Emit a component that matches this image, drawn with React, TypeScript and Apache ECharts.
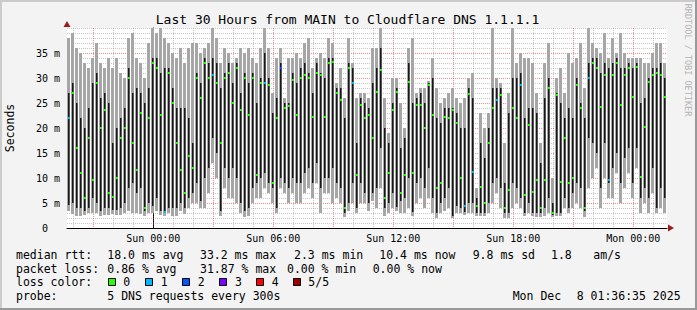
import React, { useEffect, useRef } from 'react';
import * as echarts from 'echarts';

// ---------- data (ms) ----------
// time axis in hours relative to Sun 00:00; one sample every 12 minutes
const START_HOUR = -4.315;
const END_HOUR = 25.685;
const STEP_HOURS = 0.2;

const minRtt = [
  3.5, 2.8, 2.5, 2.5, 2.7, 3, 3, 3, 2.5, 2.7,
  2.6, 2.8, 2.6, 2.7, 3, 3.5, 3, 3, 2.8, 2.5,
  3, 3, 3.5, 2.6, 2.4, 3, 2.5, 2.5, 3.5, 2.8,
  4, 5, 5, 4, 4, 7, 13, 10, 2.5, 8,
  6, 6, 5, 3, 2.2, 2.5, 5, 6, 6, 8,
  7, 5, 3, 8, 7, 5, 7, 5, 5, 7,
  8, 6, 9, 3, 7, 7, 5, 6, 5, 2.3,
  3.5, 5, 3, 5, 5, 3.5, 5.5, 4, 8, 2.5,
  3, 4, 3.5, 3, 3, 4, 2.5, 5, 6, 4,
  6, 3, 2, 3, 3.5, 4, 2, 3, 3, 2.7,
  3, 3, 2.5, 2.5, 2.4, 3, 5, 7, 4, 2,
  2, 4, 5, 4, 2.5, 3, 2.5, 2.3, 2.3, 2.5,
  3, 2.3, 2.5, 2.5, 4, 3, 4, 5, 4, 2.2,
  8, 10, 12, 4, 10, 6, 6, 11, 5, 8,
  11, 6, 12, 3, 5, 3, 7, 3, 4, 3,
];
const lowInnerRtt = [
  4.6, 5, 4, 4, 3.5, 4, 6, 5, 3.5, 4,
  4, 3.6, 3.6, 4, 5, 8, 9, 7, 8, 3.5,
  5, 4.5, 6, 3.5, 3, 4, 4, 4, 5, 4,
  6, 7, 9, 5.5, 10, 12, 18, 15, 3.5, 12,
  10, 12, 10, 5, 3.5, 4, 8, 9, 10, 11,
  9, 8, 4, 10, 9, 8, 10, 9, 9, 11,
  12, 9, 13, 8, 10, 10, 12, 9, 8, 3,
  5, 9, 4, 9, 7, 5, 7, 8, 16, 4,
  5, 7, 4.3, 5.5, 6, 10, 3.3, 9, 10, 8,
  12, 6, 3, 5, 6, 8, 2.4, 4.5, 4, 3.3,
  5, 5, 3, 3, 3, 5, 9, 10, 8, 3,
  3, 9, 8, 6, 3, 5, 3, 3, 3, 4,
  6, 2.7, 3, 3, 6, 4, 7, 9, 8, 3.5,
  18, 17, 15, 8, 17, 9, 12, 15, 9, 14,
  16, 9, 16, 6, 8, 6, 12, 4, 8, 6,
];
const medianRtt = [
  22, 27, 16, 11, 6, 18, 9.7, 29, 20, 23.6,
  7, 6.3, 10, 18, 20, 30, 17, 11.6, 23, 4,
  22, 33, 32, 22.6, 3.2, 31, 25, 17, 11.6, 7,
  14.5, 12, 30, 26, 33, 30, 30.6, 29, 17, 30,
  31, 25, 32, 23.6, 30, 22.6, 30, 10.6, 29, 29,
  28.6, 9, 22, 32, 24, 24.5, 29.6, 22.6, 30, 30.6,
  30, 22.3, 31, 30.6, 22.3, 33, 33.3, 27, 25.6, 4,
  32, 29, 10.6, 24.6, 22, 22.6, 18, 27.3, 31.6, 6,
  11, 23.6, 27.3, 7, 10.6, 29.3, 11, 24.6, 24.6, 20,
  28.6, 22.6, 8, 9, 22.3, 22, 23.6, 21, 10, 4.5,
  26.9, 11.3, 4.5, 8.3, 5, 17, 24, 25.6, 26.6, 4,
  7.6, 24, 22, 28.6, 6.6, 20.6, 7.3, 9.6, 4, 9.6,
  28, 3, 26.6, 9.3, 18, 9, 10, 28.6, 24, 4,
  30, 33, 32, 24.3, 30.6, 9.6, 30.6, 33, 24.6, 30.6,
  32, 26.3, 32.3, 10.3, 20.3, 29.3, 30.6, 31, 30.6, 26.3,
];
const highInnerRtt = [
  27, 29, 25, 22, 20, 24, 29, 31, 26, 27,
  25, 17, 20, 22, 24, 32, 27, 28, 27, 25,
  28, 34, 34, 31, 32, 32, 28, 24, 24, 24,
  22, 17, 31, 29, 34, 33, 34, 33, 28, 31,
  33, 29, 33, 27, 31, 29, 31, 25, 30, 35,
  30, 23, 26, 33, 25, 25, 31, 29, 32, 33,
  31, 27, 33, 31, 30, 34, 34, 28, 28, 22,
  33, 32, 17, 26, 25, 24, 29, 32, 36, 20,
  17, 25, 28, 16, 18, 33, 25, 26, 27, 25,
  29, 30, 22, 21, 24, 24, 24, 23, 20, 20,
  28, 26, 6, 17, 14, 20, 28, 28, 28, 9,
  23, 30, 30, 31, 22, 24, 24, 23, 13, 26,
  30, 5, 27, 25, 22, 24, 22, 30, 25, 22,
  33, 34, 34, 31, 33, 32, 33, 34, 32, 32,
  33, 32, 33, 25, 26, 30, 32, 32, 33, 30,
];
const maxRtt = [
  38, 39, 36, 35, 33, 32, 34, 37, 33, 32,
  34, 32, 34, 31, 30, 38, 39, 34, 33, 30,
  37, 40, 39, 40, 38, 37, 35, 34, 36, 33,
  36, 37, 37, 35, 36, 37, 40, 38, 33, 36,
  35, 33, 34, 36, 35, 36, 34, 33, 36, 40,
  36, 27, 34, 36, 26, 34, 34, 35, 34, 37,
  38, 32, 34, 35, 34, 38, 37, 29, 32, 26,
  38, 33, 26, 27, 27, 26, 36, 36, 40, 26,
  19, 30, 30, 25, 20, 36, 38, 27, 28, 28,
  29.5, 34, 28, 25, 26, 27, 28, 26, 25, 26,
  30, 31, 8, 23, 20, 23, 40, 30, 29, 17,
  27, 40, 33, 35, 34, 34, 33, 27, 17, 33,
  37, 10, 30, 32, 27, 35, 33, 34, 37, 28,
  40, 37, 36, 35, 39, 34, 38, 35, 39, 35,
  34, 34, 34, 34, 33, 33, 35, 37, 37, 33,
];
const lossCount = [
  1, 0, 0, 0, 0, 0, 0, 0, 0, 0,
  0, 0, 0, 0, 0, 0, 0, 0, 0, 0,
  0, 0, 0, 0, 1, 0, 0, 0, 0, 0,
  0, 0, 0, 0, 0, 0, 1, 0, 0, 0,
  0, 0, 0, 0, 0, 0, 0, 0, 0, 1,
  0, 0, 0, 2, 0, 0, 0, 0, 0, 0,
  0, 0, 0, 0, 0, 0, 0, 0, 0, 0,
  0, 1, 0, 0, 0, 0, 0, 0, 0, 0,
  0, 0, 0, 0, 0, 0, 0, 0, 0, 0,
  0, 0, 0, 0, 0, 0, 0, 0, 0, 1,
  0, 1, 0, 0, 0, 0, 0, 1, 0, 0,
  0, 0, 0, 1, 0, 0, 0, 0, 0, 0,
  0, 0, 0, 0, 0, 0, 0, 0, 0, 0,
  1, 0, 0, 0, 0, 1, 0, 0, 0, 0,
  0, 0, 0, 0, 0, 0, 0, 0, 0, 0,
];

const xLabelHours = [0, 6, 12, 18, 24];
const xLabelTexts = ['Sun 00:00', 'Sun 06:00', 'Sun 12:00', 'Sun 18:00', 'Mon 00:00'];
const lossLabels = ['0', '1', '2', '3', '4', '5/5'];
const lossColors = ['#26ff00', '#00b8ff', '#0059ff', '#7e00ff', '#ff0000', '#a00000'];

const titleText = 'Last 30 Hours from MAIN to Cloudflare DNS 1.1.1.1';
const statsRtt = ['median rtt:', '18.0 ms avg', '33.2 ms max', '2.3 ms min', '10.4 ms now', '9.8 ms sd', '1.8', 'am/s'];
const statsLoss = ['packet loss:', '0.86 % avg', '31.87 % max', '0.00 % min', '0.00 % now'];
const probeLine = ['probe:', '5 DNS requests every 300s', 'Mon Dec', '8 01:36:35 2025'];

// ---------- layout ----------
const W = 697;
const H = 310;
const GRID = { left: 67, top: 28, width: 600, height: 200 };
const MONO = '"DejaVu Sans Mono", monospace';
const rttX = [16, 107.3, 200, 294, 379.3, 472.7, 551, 593.3];
const lossX = [16, 107.3, 200, 287, 372.7];
const probeX = [16, 107.3, 512.7, 576.7];
const boxX = [108.5, 145.5, 182.5, 219.5, 256.5, 293.5];
const boxLabelX = [123.3, 160.7, 197.7, 235, 271.7, 308.3];
const LINE_Y = [255, 268.5, 282, 296];
const MINOR_GRID = 'rgba(120,120,120,0.42)';
const MAJOR_GRID = 'rgba(220,30,30,0.5)';

export default function App() {
  const ref = useRef<HTMLDivElement>(null);

  useEffect(() => {
    document.body.style.margin = '0';
    const el = ref.current;
    if (!el) return;
    const chart = echarts.init(el, undefined, { renderer: 'svg', width: W, height: H });

    const data = medianRtt.map((m, i) => [
      START_HOUR + (i + 0.5) * STEP_HOURS,
      minRtt[i],
      lowInnerRtt[i],
      m,
      highInnerRtt[i],
      maxRtt[i],
      lossCount[i],
    ]);

    const hourLines: number[][] = [];
    for (let h = Math.ceil(START_HOUR); h <= Math.floor(END_HOUR); h++) {
      hourLines.push([h, 0, h % 3 === 0 ? 1 : 0]);
    }
    const valueLines: number[][] = [];
    for (let v = 1; v <= 40; v++) {
      valueLines.push([START_HOUR, v, v % 5 === 0 && v < 40 ? 1 : 0]);
    }

    const textEl = (x: number, y: number, text: string, extra: any = {}) => ({
      type: 'text',
      x,
      y,
      z: 50,
      silent: true,
      style: {
        text,
        font: `11.5px ${MONO}`,
        fill: '#000',
        align: 'left',
        verticalAlign: 'middle',
        ...extra,
      },
    });

    const graphic: any[] = [
      { type: 'rect', shape: { x: 0, y: 0, width: W, height: 2 }, style: { fill: '#cbcbcb' }, silent: true },
      { type: 'rect', shape: { x: 0, y: 0, width: 2, height: H }, style: { fill: '#cbcbcb' }, silent: true },
      { type: 'rect', shape: { x: 0, y: H - 2, width: W, height: 2 }, style: { fill: '#999999' }, silent: true },
      { type: 'rect', shape: { x: W - 2, y: 0, width: 2, height: H }, style: { fill: '#999999' }, silent: true },
      textEl(347.5, 19, titleText, { font: `13px ${MONO}`, align: 'center' }),
      {
        type: 'text',
        x: 688,
        y: 60,
        rotation: -Math.PI / 2,
        silent: true,
        style: {
          text: 'RRDTOOL / TOBI OETIKER',
          font: `8.5px ${MONO}`,
          fill: '#b4b4b4',
          align: 'center',
          verticalAlign: 'middle',
        },
      },
      {
        type: 'polygon',
        silent: true,
        shape: { points: [[GRID.left - 3.5, GRID.top - 1], [GRID.left + 3.5, GRID.top - 1], [GRID.left, GRID.top - 7]] },
        style: { fill: '#9b1c1c' },
        z: 100,
      },
      {
        type: 'polygon',
        silent: true,
        shape: {
          points: [
            [GRID.left + GRID.width + 1, GRID.top + GRID.height - 3.5],
            [GRID.left + GRID.width + 1, GRID.top + GRID.height + 3.5],
            [GRID.left + GRID.width + 7, GRID.top + GRID.height],
          ],
        },
        style: { fill: '#9b1c1c' },
        z: 100,
      },
    ];
    statsRtt.forEach((t, i) => graphic.push(textEl(rttX[i], LINE_Y[0], t)));
    statsLoss.forEach((t, i) => graphic.push(textEl(lossX[i], LINE_Y[1], t)));
    graphic.push(textEl(16, LINE_Y[2], 'loss color:'));
    lossLabels.forEach((t, i) => {
      graphic.push({
        type: 'rect',
        silent: true,
        shape: { x: boxX[i], y: LINE_Y[2] - 3.5, width: 7, height: 7 },
        style: { fill: lossColors[i], stroke: '#000', lineWidth: 1 },
      });
      graphic.push(textEl(boxLabelX[i], LINE_Y[2], t));
    });
    probeLine.forEach((t, i) => graphic.push(textEl(probeX[i], LINE_Y[3], t)));

    const option: any = {
      animation: false,
      backgroundColor: '#f3f3f3',
      textStyle: { fontFamily: MONO },
      grid: {
        ...GRID,
        show: true,
        backgroundColor: '#ffffff',
        borderWidth: 0,
        containLabel: false,
        outerBoundsMode: 'none',
      },
      xAxis: {
        type: 'value',
        min: START_HOUR,
        max: END_HOUR,
        axisLine: { show: true, onZero: false, lineStyle: { color: '#000', width: 1 } },
        axisTick: { show: false },
        splitLine: { show: false },
        axisLabel: {
          customValues: xLabelHours,
          formatter: (v: number) => {
            const k = xLabelHours.findIndex((h) => Math.abs(h - v) < 1e-6);
            return k >= 0 ? xLabelTexts[k] : '';
          },
          fontFamily: MONO,
          fontSize: 10,
          color: '#000000',
          margin: 5,
        },
      },
      yAxis: {
        type: 'value',
        min: 0,
        max: 40,
        interval: 5,
        name: 'Seconds',
        nameLocation: 'middle',
        nameRotate: 90,
        nameGap: 51,
        nameTextStyle: { fontFamily: MONO, fontSize: 11.5, color: '#000' },
        axisLine: { show: true, lineStyle: { color: '#000', width: 1 } },
        axisTick: { show: false },
        splitLine: { show: false },
        axisLabel: {
          showMaxLabel: false,
          showMinLabel: true,
          hideOverlap: false,
          margin: 7,
          fontFamily: MONO,
          fontSize: 10,
          color: '#000000',
          formatter: (v: number) => (Number(v) >= 40 ? '' : Number(v) <= 0 ? '{z|0}' : `${v} m`),
          rich: {
            z: { width: 18, align: 'left', fontFamily: MONO, fontSize: 10, color: '#000000' },
          },
        },
      },
      series: [
        {
          type: 'custom',
          z: 1,
          silent: true,
          clip: true,
          data: hourLines,
          encode: { x: 0, y: 1 },
          renderItem: (params: any, api: any) => {
            const cs = params.coordSys;
            const x = Math.round(api.coord([api.value(0), 0])[0]) + 0.5;
            return {
              type: 'line',
              shape: { x1: x, y1: cs.y, x2: x, y2: cs.y + cs.height },
              style: { stroke: api.value(2) ? MAJOR_GRID : MINOR_GRID, lineWidth: 1, lineDash: [1, 1] },
            };
          },
        },
        {
          type: 'custom',
          z: 1,
          silent: true,
          clip: true,
          data: valueLines,
          encode: { x: 0, y: 1 },
          renderItem: (params: any, api: any) => {
            const cs = params.coordSys;
            const y = Math.round(api.coord([START_HOUR, api.value(1)])[1]) + 0.5;
            return {
              type: 'line',
              shape: { x1: cs.x, y1: y, x2: cs.x + cs.width, y2: y },
              style: { stroke: api.value(2) ? MAJOR_GRID : MINOR_GRID, lineWidth: 1, lineDash: [1, 1] },
            };
          },
        },
        {
          type: 'custom',
          z: 2,
          clip: true,
          silent: true,
          data,
          encode: { x: 0, y: [1, 2, 3, 4, 5] },
          renderItem: (params: any, api: any) => {
            const t = api.value(0);
            const [cx, yLoRaw] = api.coord([t, api.value(1)]);
            const yLo = Math.round(yLoRaw);
            const yP2 = Math.round(api.coord([t, api.value(2)])[1]);
            const yMed = Math.round(api.coord([t, api.value(3)])[1]);
            const yP4 = Math.round(api.coord([t, api.value(4)])[1]);
            const yHi = Math.round(api.coord([t, api.value(5)])[1]);
            const loss = api.value(6);
            const w = Math.round(api.size([STEP_HOURS, 0])[0]);
            const x0 = Math.round(cx - w / 2);
            return {
              type: 'group',
              children: [
                { type: 'rect', shape: { x: x0, y: yHi, width: w - 1, height: yLo - yHi }, style: { fill: '#a6a6a6' } },
                { type: 'rect', shape: { x: x0 + 1, y: yP4, width: 2, height: yP2 - yP4 }, style: { fill: '#555555' } },
                { type: 'rect', shape: { x: x0 + 1, y: yP4, width: 1, height: yP2 - yP4 }, style: { fill: '#181818' } },
                { type: 'rect', shape: { x: x0 + 1, y: yMed - 1, width: 2, height: 2 }, style: { fill: lossColors[loss] } },
              ],
            };
          },
        },
      ],
      graphic,
    };

    chart.setOption(option);
    return () => chart.dispose();
  }, []);

  return (
    <div style={{ position: 'absolute', left: 0, top: 0, width: W, height: H, background: '#f3f3f3' }}>
      <div ref={ref} style={{ width: W, height: H }} />
    </div>
  );
}
